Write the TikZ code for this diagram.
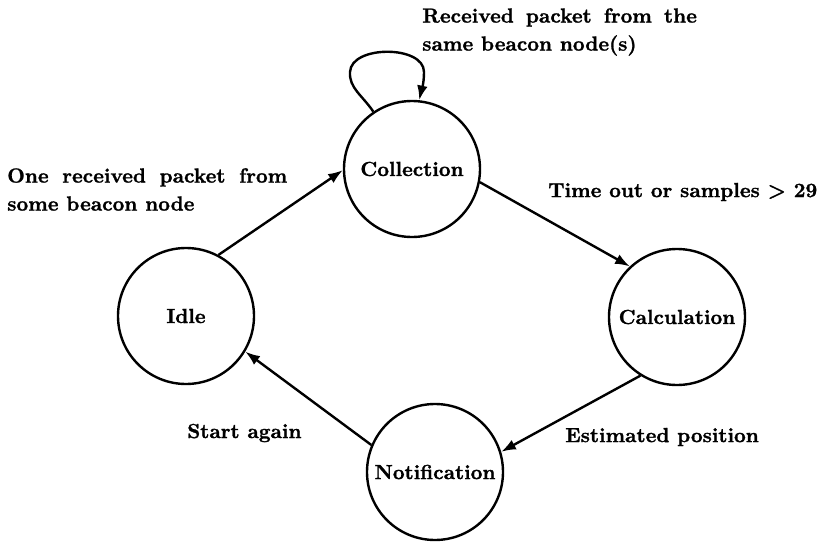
\documentclass[tikz,border=0pt]{standalone}
\usepackage{fontspec}
\usetikzlibrary{arrows.meta}
\newfontfamily\heavyfont{lmroman10-bold.otf}[FakeBold=1.2]
\begin{document}
\begin{tikzpicture}[x=0.75pt,y=-0.75pt,
  state/.style={circle,draw,line width=1.8pt,minimum size=102pt,inner sep=0pt,
    font=\heavyfont\fontsize{15.3}{21}\selectfont},
  arr/.style={line width=1.8pt,-{Latex[length=11pt,width=8pt]}},
  lbl/.style={anchor=west,inner sep=0pt,align=left,
    font=\heavyfont\fontsize{15.3}{21}\selectfont}]
\useasboundingbox (0,0) rectangle (821,542);

% states
\node[state] (col)   at (412,169) {Collection};
\node[state] (idle)  at (186,316) {Idle};
\node[state] (calc)  at (677,317) {Calculation};
\node[state] (notif) at (435,472) {Notification};

% transitions
\draw[arr] (idle.62) -- (col.181);
\draw[arr] (col.-11) -- (calc.133);
\draw[arr] (calc.238) -- (notif.17);
\draw[arr] (notif.157) -- (idle.-31);

% self loop on Collection
\draw[arr] (col.124) .. controls (362,95) and (349,88) .. (350,72)
  .. controls (351,45) and (424,45) .. (424,72)
  .. controls (424,85) and (421,92) .. (col.84);

% transition labels
\node[lbl] (lrecv) at (422,32) {\makebox[206pt][s]{Received packet from the}\\same beacon node(s)};
\node[lbl] (lone) at (7,189.5) {\makebox[210pt][s]{One received packet from}\\some beacon node};
\node[lbl] (ltime) at (548,192) {Time out or samples > 29};
\node[lbl] (lest) at (565,437) {Estimated position};
\node[lbl] (lstart) at (187,433) {Start again};
\end{tikzpicture}
\end{document}
